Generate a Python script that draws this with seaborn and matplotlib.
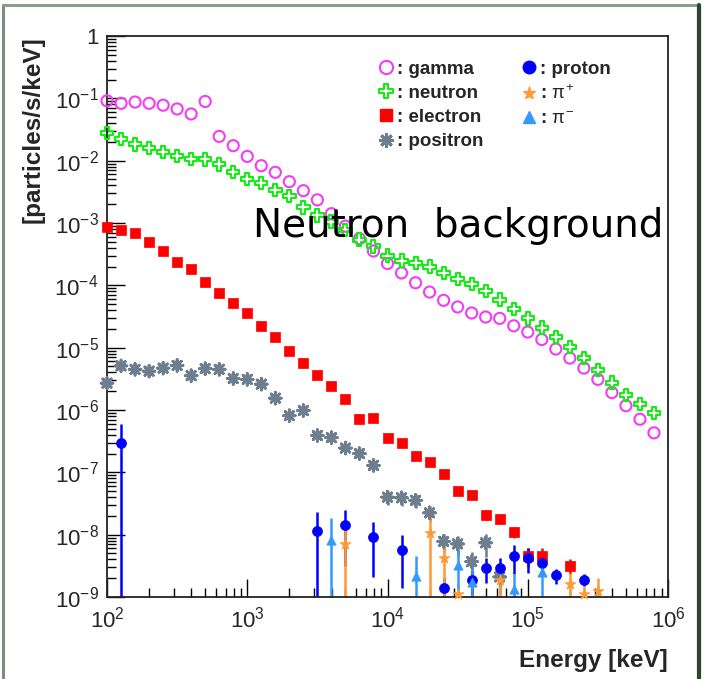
import numpy as np
import pandas as pd
import matplotlib
matplotlib.use("Agg")
import matplotlib.pyplot as plt
import seaborn as sns
from matplotlib.path import Path
from matplotlib.lines import Line2D
from matplotlib.ticker import LogLocator, FuncFormatter, NullFormatter

# ---------------- data ----------------
energy = [100, 125.9, 158.5, 199.5, 251.2, 316.2, 398.1, 501.2, 631.0, 794.3,
          1000, 1259, 1585, 1995, 2512, 3162, 3981, 5012, 6310, 7943,
          1.0e4, 1.259e4, 1.585e4, 1.995e4, 2.512e4, 3.162e4, 3.981e4, 5.012e4, 6.310e4, 7.943e4,
          1.0e5, 1.259e5, 1.585e5, 1.995e5, 2.512e5, 3.162e5, 3.981e5, 5.012e5, 6.310e5, 7.943e5]

gamma = [0.0912, 0.0832, 0.0871, 0.0832, 0.0776, 0.0676, 0.0562, 0.0891, 0.0245, 0.0174,
         0.0117, 8.3e-3, 6.5e-3, 4.6e-3, 3.3e-3, 2.35e-3, 1.41e-3, 8.9e-4, 5.6e-4, 3.55e-4,
         2.24e-4, 1.58e-4, 1.1e-4, 7.8e-5, 5.75e-5, 4.5e-5, 3.6e-5, 3.1e-5, 2.95e-5, 2.24e-5,
         1.78e-5, 1.35e-5, 9.5e-6, 6.8e-6, 4.7e-6, 3.1e-6, 1.9e-6, 1.17e-6, 7.1e-7, 4.3e-7]

neutron = [0.0275, 0.0224, 0.0182, 0.0158, 0.0138, 0.0120, 0.0107, 0.0105, 8.7e-3, 6.6e-3,
           5.1e-3, 4.4e-3, 3.4e-3, 2.7e-3, 1.78e-3, 1.32e-3, 1.05e-3, 7.8e-4, 5.4e-4, 4.2e-4,
           3.0e-4, 2.5e-4, 2.3e-4, 2.0e-4, 1.58e-4, 1.26e-4, 1.05e-4, 8.1e-5, 5.9e-5, 4.2e-5,
           2.95e-5, 2.1e-5, 1.48e-5, 1.02e-5, 6.8e-6, 4.4e-6, 2.75e-6, 1.74e-6, 1.26e-6, 8.9e-7]

electron_energy = [100, 125.9, 158.5, 199.5, 251.2, 316.2, 398.1, 501.2, 631.0, 794.3,
                   1000, 1259, 1585, 1995, 2512, 3162, 3981, 5012, 6310, 7943,
                   1.0e4, 1.259e4, 1.585e4, 1.995e4, 2.512e4, 3.162e4, 3.981e4, 5.012e4, 6.310e4, 7.943e4,
                   1.0e5, 1.259e5, 1.995e5]
electron = [8.5e-4, 7.6e-4, 6.9e-4, 5.0e-4, 3.6e-4, 2.35e-4, 1.86e-4, 1.15e-4, 7.6e-5, 5.2e-5,
            3.55e-5, 2.2e-5, 1.48e-5, 8.7e-6, 5.6e-6, 3.7e-6, 2.4e-6, 1.48e-6, 7.2e-7, 7.4e-7,
            3.6e-7, 3.0e-7, 1.86e-7, 1.45e-7, 9.3e-8, 5.1e-8, 4.4e-8, 2.1e-8, 1.78e-8, 1.12e-8,
            4.5e-9, 4.6e-9, 3.2e-9]
electron_err = [0, 0, 0, 0, 0, 0, 0, 0, 0, 0,
                0, 0, 0, 0, 0, 0, 0, 0, 0, 0,
                0, 0, 0, 0, 0, 5e-9, 6e-9, 3.5e-9, 3e-9, 2.2e-9,
                1.5e-9, 1.4e-9, 0.9e-9]

positron_energy = [100, 125.9, 158.5, 199.5, 251.2, 316.2, 398.1, 501.2, 631.0, 794.3,
                   1000, 1259, 1585, 1995, 2512, 3162, 3981, 5012, 6310, 7943,
                   1.0e4, 1.259e4, 1.585e4, 1.995e4, 2.512e4, 3.162e4, 3.981e4, 5.012e4, 6.310e4]
positron = [2.7e-6, 5.1e-6, 4.5e-6, 4.2e-6, 4.7e-6, 5.2e-6, 3.55e-6, 4.6e-6, 4.5e-6, 3.2e-6,
            3.1e-6, 2.6e-6, 1.55e-6, 8.1e-7, 9.8e-7, 3.9e-7, 3.6e-7, 2.45e-7, 2.0e-7, 1.29e-7,
            4.0e-8, 3.9e-8, 3.55e-8, 2.24e-8, 7.8e-9, 7.1e-9, 3.7e-9, 7.4e-9, 2.1e-9]
positron_err = [4e-7, 6e-7, 6e-7, 7e-7, 6e-7, 6e-7, 5e-7, 5e-7, 5e-7, 4e-7,
                4e-7, 3.5e-7, 2e-7, 1.2e-7, 1.3e-7, 6e-8, 5.5e-8, 3.5e-8, 3e-8, 2e-8,
                1e-8, 1e-8, 9e-9, 6e-9, 2.5e-9, 2.5e-9, 1.5e-9, 3e-9, 1e-9]

proton_energy = [125.9, 3162, 5012, 7943, 1.259e4, 2.512e4, 3.981e4, 5.012e4, 6.310e4, 7.943e4,
                 1.0e5, 1.259e5, 1.585e5, 2.512e5]
proton = [2.95e-7, 1.15e-8, 1.41e-8, 9.1e-9, 5.6e-9, 1.41e-9, 1.86e-9, 2.95e-9, 2.88e-9, 4.57e-9,
          4.27e-9, 3.47e-9, 2.24e-9, 1.9e-9]
proton_err = [3.1e-7, 1.2e-8, 1.1e-8, 7e-9, 4.2e-9, 0.6e-9, 0.8e-9, 1.3e-9, 1.4e-9, 2.2e-9,
              1.8e-9, 1.3e-9, 0.6e-9, 0.4e-9]

pip_energy = [5012, 1.995e4, 2.512e4, 3.162e4, 6.310e4, 1.995e5, 2.512e5, 3.162e5]
pip = [7.1e-9, 1.07e-8, 4.27e-9, 1.1e-9, 1.86e-9, 1.62e-9, 1.1e-9, 1.26e-9]
pip_err = [7e-9, 1.1e-8, 3.5e-9, 0.5e-9, 1.0e-9, 0.8e-9, 0.4e-9, 0.74e-9]

pim_energy = [3981, 1.585e4, 3.162e4, 3.981e4, 7.943e4, 1.259e5]
pim = [8.3e-9, 2.14e-9, 3.24e-9, 1.74e-9, 1.32e-9, 2.51e-9]
pim_err = [9.9e-9, 2.4e-9, 2.4e-9, 1.5e-9, 1.0e-9, 1.7e-9]

labels = [": gamma", ": neutron", ": electron", ": positron", ": proton", r": $\pi^{+}$", r": $\pi^{-}$"]

# ---------------- style ----------------
sns.set_theme(style="white")
plt.rcParams["font.family"] = ["Liberation Sans", "DejaVu Sans"]
plt.rcParams["mathtext.fontset"] = "custom"
plt.rcParams["mathtext.rm"] = "Liberation Sans"
plt.rcParams["mathtext.it"] = "Liberation Sans"
plt.rcParams["mathtext.bf"] = "Liberation Sans:bold"

c_gamma = "#f43cf4"
c_neutron = "#12ee12"
c_electron = "#ff0000"
c_positron = "#6d7f8f"
c_proton = "#0000ff"
c_pip = "#ff9933"
c_pim = "#3399ff"

w = 0.32
cross_path = Path([(-w, 1), (w, 1), (w, w), (1, w), (1, -w), (w, -w), (w, -1), (-w, -1),
                   (-w, -w), (-1, -w), (-1, w), (-w, w), (-w, 1)], closed=True)
asterisk = (8, 2, 0)

W, H = 702, 679
fig = plt.figure(figsize=(W / 100, H / 100), dpi=100)
fig.patch.set_facecolor("white")
L, R, T, B = 107, 668, 36, 597
ax = fig.add_axes([L / W, 1 - B / H, (R - L) / W, (B - T) / H])
ax.set_facecolor("white")
ax.set_xscale("log")
ax.set_yscale("log")
ax.set_xlim(1e2, 1e6)
ax.set_ylim(1e-9, 1)


def errs(xs, ys, es, color):
    ax.errorbar(xs, ys, yerr=es, fmt="none", ecolor=color, elinewidth=1.8, capsize=0, zorder=2)


def pts(xs, ys, marker, s, color, open_=False, lw=1.3):
    sns.scatterplot(x=xs, y=ys, ax=ax, marker=marker, s=s, color=color, linewidth=lw,
                    legend=False, zorder=3, clip_on=False)
    coll = ax.collections[-1]
    if open_:
        coll.set_facecolor("none")
        coll.set_edgecolor(color)
        coll.set_linewidth(lw)
    else:
        coll.set_edgecolor(color)


pts(energy, gamma, "o", 64, c_gamma, open_=True, lw=1.5)
pts(energy, neutron, cross_path, 80, c_neutron, open_=True, lw=1.5)
errs(electron_energy, electron, electron_err, c_electron)
pts(electron_energy, electron, "s", 54, c_electron, lw=0.5)
errs(positron_energy, positron, positron_err, c_positron)
pts(positron_energy, positron, asterisk, 72, c_positron, open_=True, lw=2.0)
errs(proton_energy, proton, proton_err, c_proton)
pts(proton_energy, proton, "o", 52, c_proton, lw=0.5)
errs(pip_energy, pip, pip_err, c_pip)
pts(pip_energy, pip, "*", 70, c_pip, lw=0.5)
errs(pim_energy, pim, pim_err, c_pim)
pts(pim_energy, pim, "^", 45, c_pim, lw=0.5)

# axes / ticks
for sp in ax.spines.values():
    sp.set_color("#222222")
    sp.set_linewidth(1.3)
ax.xaxis.set_major_locator(LogLocator(base=10, numticks=20))
ax.xaxis.set_minor_locator(LogLocator(base=10, subs=np.arange(2, 10), numticks=20))
ax.yaxis.set_major_locator(LogLocator(base=10, numticks=20))
ax.yaxis.set_minor_locator(LogLocator(base=10, subs=np.arange(2, 10), numticks=20))


def fmt(v, pos):
    e = int(round(np.log10(v)))
    if e == 0:
        return "1"
    return r"$\mathregular{10^{%d}}$" % e


ax.xaxis.set_major_formatter(FuncFormatter(fmt))
ax.yaxis.set_major_formatter(FuncFormatter(fmt))
ax.xaxis.set_minor_formatter(NullFormatter())
ax.yaxis.set_minor_formatter(NullFormatter())
ax.tick_params(which="both", direction="in", bottom=True, left=True, top=False, right=False,
               color="black", width=1.0)
ax.tick_params(which="major", length=13, labelsize=16, pad=7)
ax.tick_params(which="minor", length=6.5)
ax.tick_params(axis="y", which="major", pad=6)

ax.set_ylabel("[particles/s/keV]", loc="top", fontsize=17.5, fontweight="bold", labelpad=7)
ax.set_xlabel("Energy [keV]", loc="right", fontsize=17.5, fontweight="bold", labelpad=12)

# legend
handles = [
    Line2D([], [], marker="o", ls="None", ms=9.5, mfc="none", mec=c_gamma, mew=1.5),
    Line2D([], [], marker=cross_path, ls="None", ms=10.5, mfc="none", mec=c_neutron, mew=1.5),
    Line2D([], [], marker="s", ls="None", ms=8.5, mfc=c_electron, mec=c_electron),
    Line2D([], [], marker=asterisk, ls="None", ms=10.5, mec=c_positron, mew=2.0),
    Line2D([], [], marker="o", ls="None", ms=9, mfc=c_proton, mec=c_proton),
    Line2D([], [], marker="*", ls="None", ms=9.5, mfc=c_pip, mec=c_pip),
    Line2D([], [], marker="^", ls="None", ms=8.5, mfc=c_pim, mec=c_pim),
]
leg = ax.legend(handles, labels, ncol=2, loc="upper left",
                bbox_to_anchor=(367 / W, 1 - 51 / H), bbox_transform=fig.transFigure,
                frameon=False, handlelength=1.0, handletextpad=0.12, labelspacing=0.38,
                columnspacing=1.9, borderpad=0, prop={"size": 13.5, "weight": "bold"})

# annotation
fig.text(253 / W, 1 - 237 / H, "Neutron  background", fontsize=28, family="DejaVu Sans",
         color="black", ha="left", va="baseline")

# outer frame lines of the slide
fig.add_artist(Line2D([3 / W, 3 / W], [0, 1 - 5 / H], transform=fig.transFigure, color="#7b8e7b", lw=2.2))
fig.add_artist(Line2D([3 / W, 697 / W], [1 - 5 / H, 1 - 5 / H], transform=fig.transFigure, color="#8c9c8c", lw=2.2))
fig.add_artist(Line2D([699 / W, 699 / W], [0, 1 - 5 / H], transform=fig.transFigure, color="#2c472c", lw=3.0))

fig.savefig("out.png", dpi=100, facecolor="white")
